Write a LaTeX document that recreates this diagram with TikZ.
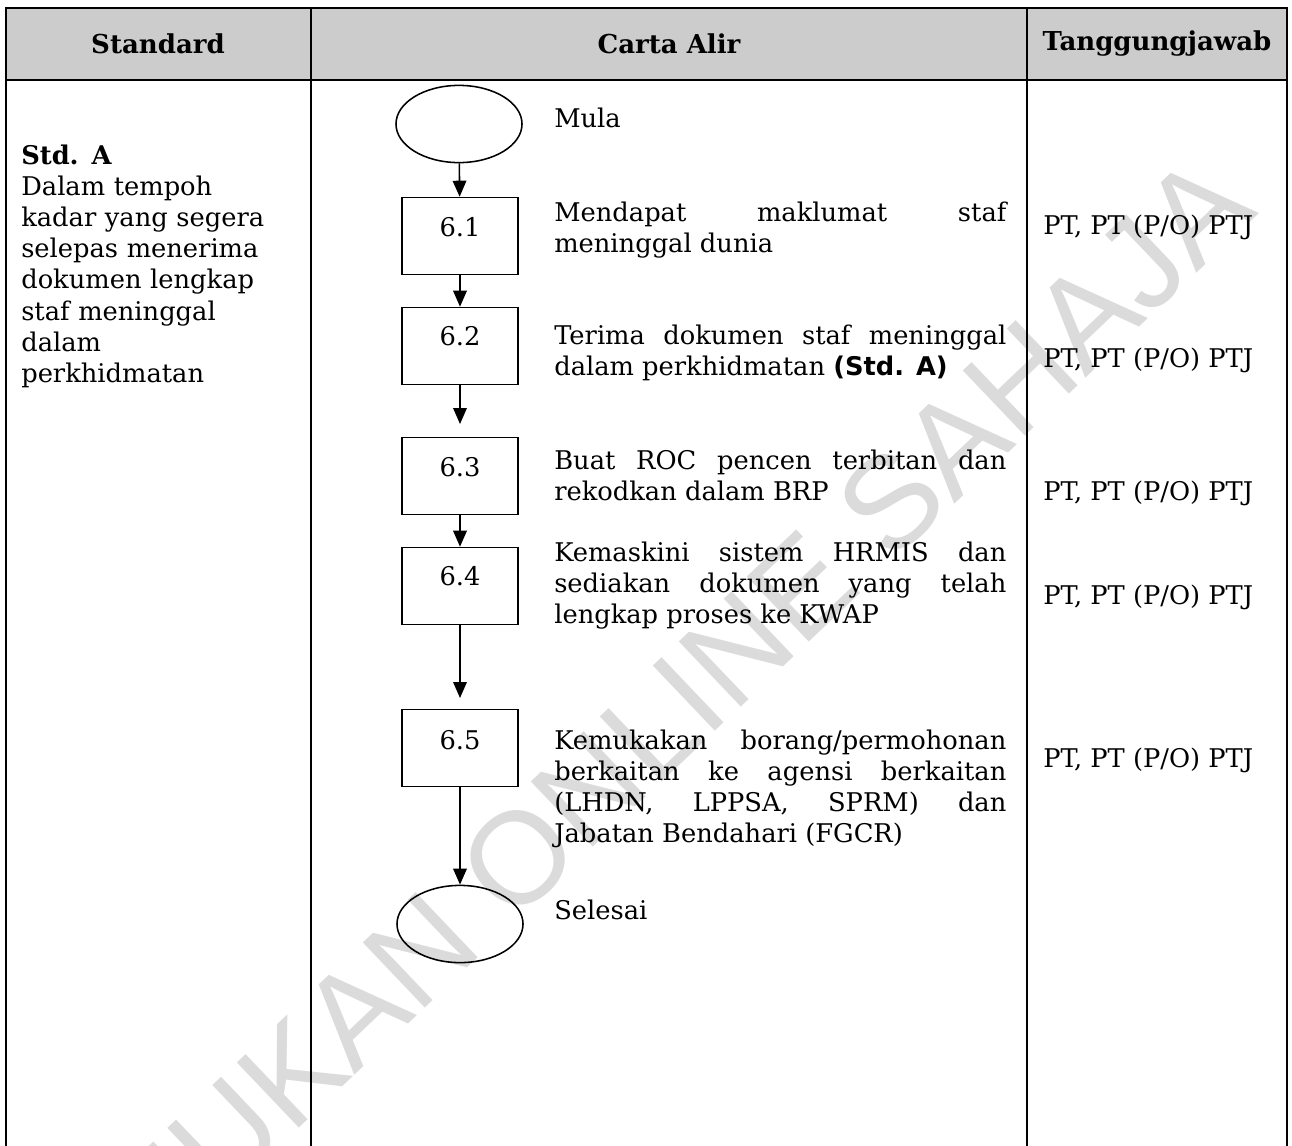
\documentclass[tikz,border=0pt]{standalone}
\usepackage{fontspec}
\setmainfont{DejaVu Serif}
\setsansfont{DejaVu Sans}
\newfontfamily\wmfont{Liberation Sans}
\usetikzlibrary{arrows.meta,shapes.geometric}
\hyphenpenalty=10000
\exhyphenpenalty=10000

\tikzset{
  proses/.style={draw, line width=1.1pt, minimum width=2.9cm, minimum height=1.925cm},
  hujung/.style={draw, ellipse, line width=1.1pt, minimum width=3.15cm, minimum height=1.93cm},
  aliran/.style={line width=1.1pt, -{Triangle[length=0.4cm,width=0.34cm]}},
  huraian/.style={anchor=base west, inner sep=0pt, text width=11.3cm, align=justify},
  tjwb/.style={anchor=west, inner sep=0pt},
  tajuk/.style={font=\fontsize{18.5}{22}\selectfont\bfseries},
  garis/.style={line width=1.5pt},
}

\begin{document}
\begin{tikzpicture}[x=0.025cm, y=-0.025cm, font=\fontsize{18.3}{22.2}\selectfont]
\useasboundingbox (0,0) rectangle (1292,1145);

\fill[black!20] (6,8) rectangle (1287,80);

\node[rotate=43.6, text=black!14, font=\wmfont\fontsize{93}{93}\selectfont] (wm) at (618,762) {RUJUKAN ONLINE SAHAJA};

\draw[garis] (6,1150) -- (6,8) -- (1287,8) -- (1287,1150);
\draw[garis] (6,80) -- (1287,80);
\draw[garis] (311,8) -- (311,1150);
\draw[garis] (1027,8) -- (1027,1150);

\node[tajuk] (hstd) at (158,44) {Standard};
\node[tajuk] (hca) at (669,44) {Carta Alir};
\node[tajuk] (htj) at (1157,44) {Tanggungjawab};

\node[anchor=base west, inner sep=0pt, text width=7cm, align=left] (std) at (21,164)
  {\textbf{Std. A}\\ Dalam tempoh\\ kadar yang segera\\ selepas menerima\\ dokumen lengkap\\ staf meninggal\\ dalam\\ perkhidmatan};

\node[hujung] (mula) at (459,124) {};
\node[proses] (s1) at (460,236) {};
\node[proses] (s2) at (460,346) {};
\node[proses] (s3) at (460,476) {};
\node[proses] (s4) at (460,586) {};
\node[proses] (s5) at (460,748) {};
\node[hujung] (selesai) at (460,924) {};

\node (l1) at (460,227) {6.1};
\node (l2) at (460,336) {6.2};
\node (l3) at (460,467) {6.3};
\node (l4) at (460,576) {6.4};
\node (l5) at (460,740) {6.5};

\coordinate (a2) at (460,424);
\coordinate (a4) at (460,698);

\draw[aliran] (mula) -- (s1);
\draw[aliran] (s1) -- (s2);
\draw[aliran] (s2) -- (a2);
\draw[aliran] (s3) -- (s4);
\draw[aliran] (s4) -- (a4);
\draw[aliran] (s5) -- (selesai);

\node[anchor=base west, inner sep=0pt] (tmula) at (554,127) {Mula};
\node[huraian] (d1) at (554,221) {Mendapat maklumat staf\linebreak meninggal dunia};
\node[huraian] (d2) at (554,344) {Terima dokumen staf meninggal\linebreak dalam perkhidmatan \textsf{\bfseries (Std. A)}};
\node[huraian] (d3) at (554,469) {Buat ROC pencen terbitan dan\linebreak rekodkan dalam BRP};
\node[huraian] (d4) at (554,561) {Kemaskini sistem HRMIS dan\linebreak sediakan dokumen yang telah\linebreak lengkap proses ke KWAP};
\node[huraian] (d5) at (554,749) {Kemukakan borang/permohonan\linebreak berkaitan ke agensi berkaitan\linebreak (LHDN, LPPSA, SPRM) dan\linebreak Jabatan Bendahari (FGCR)};
\node[anchor=base west, inner sep=0pt] (tsel) at (554,919) {Selesai};

\node[tjwb] (t1) at (1043,227) {PT, PT (P/O) PTJ};
\node[tjwb] (t2) at (1043,360) {PT, PT (P/O) PTJ};
\node[tjwb] (t3) at (1043,493) {PT, PT (P/O) PTJ};
\node[tjwb] (t4) at (1043,597) {PT, PT (P/O) PTJ};
\node[tjwb] (t5) at (1043,760) {PT, PT (P/O) PTJ};

\end{tikzpicture}
\end{document}
